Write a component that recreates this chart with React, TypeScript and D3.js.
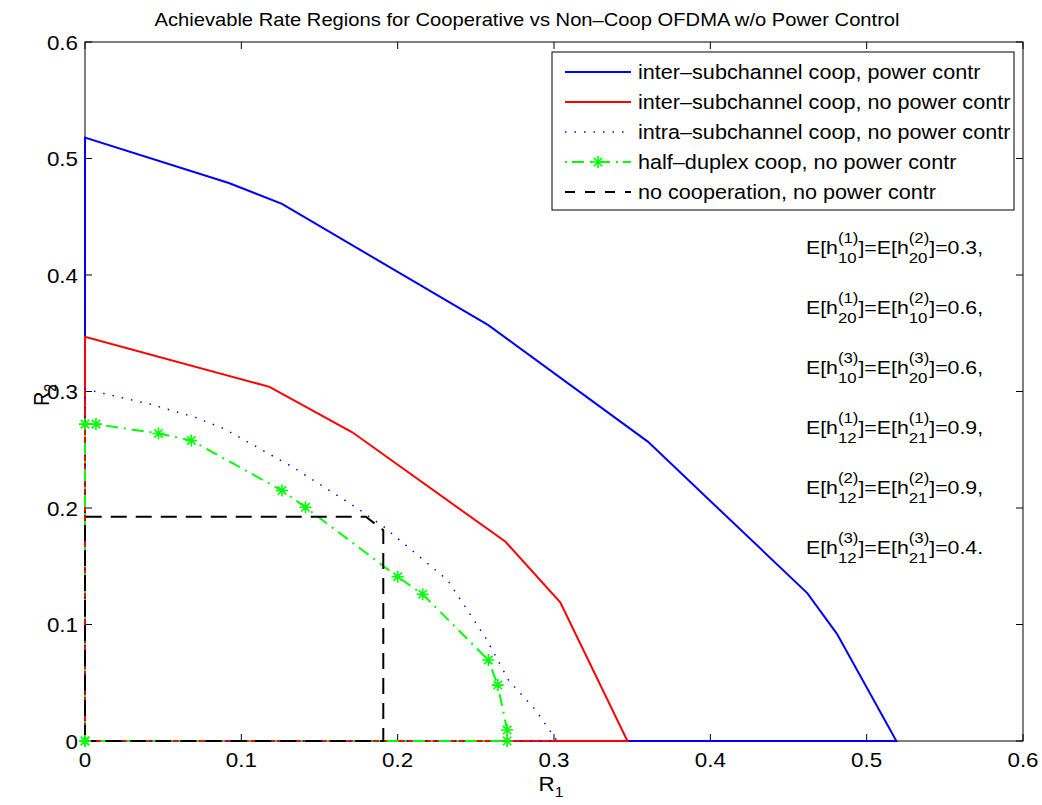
import React from "react";
import * as d3 from "d3";

// ---------- data ----------
const xTicks = [0, 0.1, 0.2, 0.3, 0.4, 0.5, 0.6];
const yTicks = [0, 0.1, 0.2, 0.3, 0.4, 0.5, 0.6];
const tickLabels = ["0", "0.1", "0.2", "0.3", "0.4", "0.5", "0.6"];

const blueR1 = [0, 0, 0.092, 0.126, 0.258, 0.36, 0.462, 0.481, 0.519, 0];
const blueR2 = [0, 0.518, 0.479, 0.461, 0.357, 0.257, 0.127, 0.092, 0, 0];

const redR1 = [0, 0, 0.118, 0.171, 0.269, 0.304, 0.347, 0];
const redR2 = [0, 0.347, 0.304, 0.265, 0.171, 0.119, 0, 0];

const intraR1 = [0, 0, 0.042, 0.07, 0.089, 0.133, 0.174, 0.191, 0.232, 0.257, 0.271, 0.288, 0.302, 0];
const intraR2 = [0, 0.302, 0.289, 0.278, 0.268, 0.235, 0.2, 0.184, 0.138, 0.087, 0.052, 0.027, 0, 0];

const halfR1 = [0, 0, 0.007, 0.047, 0.068, 0.126, 0.141, 0.2, 0.216, 0.258, 0.264, 0.27, 0.27, 0];
const halfR2 = [0, 0.272, 0.272, 0.264, 0.258, 0.215, 0.2006, 0.141, 0.126, 0.0695, 0.048, 0.0094, 0, 0];

const noR1 = [0, 0, 0.1797, 0.1908, 0.1908, 0];
const noR2 = [0, 0.1925, 0.1925, 0.181, 0, 0];

const legendLabels = [
  "inter\u2013subchannel coop, power contr",
  "inter\u2013subchannel coop, no power contr",
  "intra\u2013subchannel coop, no power contr",
  "half\u2013duplex coop, no power contr",
  "no cooperation, no power contr",
];

// annotation rows: [sup1, sub1, sup2, sub2, tail]
const annoRows: string[][] = [
  ["(1)", "10", "(2)", "20", "]=0.3,"],
  ["(1)", "20", "(2)", "10", "]=0.6,"],
  ["(3)", "10", "(3)", "20", "]=0.6,"],
  ["(1)", "12", "(1)", "21", "]=0.9,"],
  ["(2)", "12", "(2)", "21", "]=0.9,"],
  ["(3)", "12", "(3)", "21", "]=0.4."],
];

const titleText = "Achievable Rate Regions for Cooperative vs Non\u2013Coop OFDMA w/o Power Control";

// ---------- layout ----------
const W = 1042, H = 805;
const FONT = "'Liberation Sans', Arial, Helvetica, sans-serif";
const SX = 1.12;
const x = d3.scaleLinear().domain([0, 0.6]).range([85, 1023]);
const y = d3.scaleLinear().domain([0, 0.6]).range([741, 42]);

let ctx: CanvasRenderingContext2D | null = null;
function measure(t: string, size: number) {
  if (!ctx) ctx = document.createElement("canvas").getContext("2d");
  if (!ctx) return t.length * size * 0.55;
  ctx.font = `${size}px 'Liberation Sans', Arial, sans-serif`;
  return ctx.measureText(t).width;
}

function zip(a: number[], b: number[]): [number, number][] {
  return a.map((v, i) => [v, b[i]]);
}

const lineGen = d3.line<[number, number]>().x((d) => x(d[0])).y((d) => y(d[1]));

const asterisk = (r: number) =>
  `M${-r},0L${r},0M0,${-r}L0,${r}M${-r * 0.7},${-r * 0.7}L${r * 0.7},${r * 0.7}M${-r * 0.7},${r * 0.7}L${r * 0.7},${-r * 0.7}`;

const GREEN = "#00ff00";

function STextEl(props: { x: number; y: number; size: number; anchor?: string; children: React.ReactNode }) {
  return (
    <g transform={`translate(${props.x},${props.y}) scale(${SX},1)`}>
      <text x={0} y={0} fontSize={props.size} fontFamily={FONT} textAnchor={props.anchor || "start"} fill="#000">
        {props.children}
      </text>
    </g>
  );
}

function Annotation({ row, bx, by }: { row: string[]; bx: number; by: number }) {
  const M = 19, S = 15;
  const supDy = -11.5, subDy = 8.5;
  let cx = 0;
  const parts: React.ReactNode[] = [];
  const pushMain = (t: string, k: string) => {
    parts.push(<text key={k} x={cx} y={0} fontSize={M} fontFamily={FONT}>{t}</text>);
    cx += measure(t, M);
  };
  const pushScripts = (sup: string, sub: string, k: string) => {
    parts.push(<text key={k + "a"} x={cx} y={supDy} fontSize={S} fontFamily={FONT}>{sup}</text>);
    parts.push(<text key={k + "b"} x={cx} y={subDy} fontSize={S} fontFamily={FONT}>{sub}</text>);
    cx += Math.max(measure(sup, S), measure(sub, S));
  };
  pushMain("E[h", "m1");
  pushScripts(row[0], row[1], "s1");
  pushMain("]=E[h", "m2");
  pushScripts(row[2], row[3], "s2");
  pushMain(row[4], "m3");
  return <g transform={`translate(${bx},${by}) scale(${SX},1)`}>{parts}</g>;
}

export default function App() {
  const series = [
    { pts: zip(blueR1, blueR2), color: "#0000ff", dash: undefined as string | undefined, w: 2 },
    { pts: zip(redR1, redR2), color: "#ff0000", dash: undefined, w: 2 },
    { pts: zip(intraR1, intraR2), color: "#0000ff", dash: "1.5 8", w: 1.5 },
    { pts: zip(halfR1, halfR2), color: GREEN, dash: "12 6 2 6", w: 2 },
    { pts: zip(noR1, noR2), color: "#000000", dash: "16 9", w: 2 },
  ];

  const halfPts = zip(halfR1, halfR2);

  const legX = 552, legY = 52, legW = 462, legH = 158;
  const rowY = (i: number) => 72 + 30 * i;

  return (
    <svg width={W} height={H} style={{ position: "absolute", left: 0, top: 0, background: "#fff" }}>
      <rect x={0} y={0} width={W} height={H} fill="#fff" />
      {/* axes box */}
      <rect x={x(0)} y={y(0.6)} width={x(0.6) - x(0)} height={y(0) - y(0.6)} fill="#fff" stroke="#000" strokeWidth={1} />
      {/* ticks */}
      {xTicks.map((t, i) => (
        <g key={"xt" + i}>
          <line x1={x(t)} x2={x(t)} y1={y(0)} y2={y(0) - 7} stroke="#000" strokeWidth={1} />
          <line x1={x(t)} x2={x(t)} y1={y(0.6)} y2={y(0.6) + 7} stroke="#000" strokeWidth={1} />
          <STextEl x={x(t)} y={767} size={20} anchor="middle">{tickLabels[i]}</STextEl>
        </g>
      ))}
      {yTicks.map((t, i) => (
        <g key={"yt" + i}>
          <line x1={x(0)} x2={x(0) + 7} y1={y(t)} y2={y(t)} stroke="#000" strokeWidth={1} />
          <line x1={x(0.6)} x2={x(0.6) - 7} y1={y(t)} y2={y(t)} stroke="#000" strokeWidth={1} />
          <STextEl x={78} y={y(t) + 7.5} size={20} anchor="end">{tickLabels[i]}</STextEl>
        </g>
      ))}
      {/* data */}
      {series.map((s, i) => (
        <path key={"s" + i} d={lineGen(s.pts) || ""} fill="none" stroke={s.color} strokeWidth={s.w}
          strokeDasharray={s.dash} strokeLinejoin="miter" />
      ))}
      {halfPts.map((p, i) => (
        <path key={"m" + i} d={asterisk(6)} transform={`translate(${x(p[0])},${y(p[1])})`} stroke={GREEN} strokeWidth={1.6} fill="none" />
      ))}
      {/* title */}
      <STextEl x={527} y={26} size={18} anchor="middle">{titleText}</STextEl>
      {/* axis labels */}
      <g transform={`translate(551,791) scale(${SX},1)`}>
        <text x={0} y={0} fontSize={20} fontFamily={FONT} textAnchor="middle">
          R<tspan fontSize={14} dy={6}>1</tspan>
        </text>
      </g>
      <g transform={`translate(49,395) rotate(-90) scale(1,${SX})`}>
        <text x={0} y={0} fontSize={20} fontFamily={FONT} textAnchor="middle">
          R<tspan fontSize={14} dy={6}>2</tspan>
        </text>
      </g>
      {/* legend */}
      <rect x={legX} y={legY} width={legW} height={legH} fill="#fff" stroke="#000" strokeWidth={1} />
      {series.map((s, i) => (
        <g key={"lg" + i}>
          <line x1={565} x2={631} y1={rowY(i)} y2={rowY(i)} stroke={s.color} strokeWidth={s.w}
            strokeDasharray={i === 3 ? "2 5 12 6 2 6 12 6" : i === 4 ? "10 10" : s.dash} />
          {i === 3 && (
            <path d={asterisk(6)} transform={`translate(598,${rowY(i)})`} stroke={GREEN} strokeWidth={1.6} fill="none" />
          )}
          <STextEl x={638} y={rowY(i) + 7} size={19.3}>{legendLabels[i]}</STextEl>
        </g>
      ))}
      {/* annotation */}
      {annoRows.map((r, i) => (
        <Annotation key={"an" + i} row={r} bx={806} by={254 + 60 * i} />
      ))}
    </svg>
  );
}
